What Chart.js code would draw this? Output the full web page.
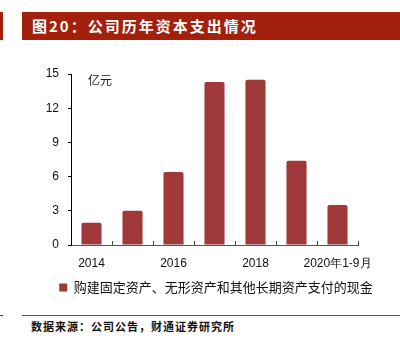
<!DOCTYPE html>
<html lang="zh">
<head>
  <meta charset="UTF-8">
  <title>公司历年资本支出情况</title>
  <script src="https://cdn.jsdelivr.net/npm/chart.js"></script>
  <style>
    body {
      margin: 0;
      width: 400px;
      height: 351px;
      background: #fff;
      position: relative;
      overflow: hidden;
      font-family: "Noto Sans CJK SC", "Liberation Sans", sans-serif;
    }
    .stub {
      position: absolute;
      left: 0;
      width: 3px;
      background: #a3200c;
    }
    #title {
      position: absolute;
      left: 22px;
      top: 12px;
      width: 378px;
      height: 28px;
      background: #a3200c;
      color: #fff;
      font-weight: bold;
      font-size: 15px;
      line-height: 28px;
      padding-left: 10px;
      box-sizing: border-box;
      letter-spacing: 2px;
    }
    #chart-box {
      position: absolute;
      left: 0;
      top: 50px;
      width: 400px;
      height: 258px;
    }
    #rule {
      position: absolute;
      left: 22px;
      top: 315px;
      width: 378px;
      height: 1px;
      background: #c0301a;
    }
    #source {
      position: absolute;
      left: 31px;
      top: 318px;
      font-size: 11px;
      font-weight: bold;
      letter-spacing: 1px;
      color: #111;
    }
  </style>
</head>
<body>
  <div class="stub" style="top:12px;height:28px"></div>
  <div id="title">图20：公司历年资本支出情况</div>
  <div id="chart-box">
    <canvas id="capexChart"></canvas>
  </div>
  <div class="stub" style="top:315px;height:1px"></div>
  <div id="rule"></div>
  <div id="source">数据来源：公司公告，财通证券研究所</div>

  <script>
    const years = ['2014', '2015', '2016', '2017', '2018', '2019', '2020年1-9月'];
    const capex = [1.95, 3.0, 6.4, 14.3, 14.5, 7.4, 3.5];
    const yTicks = [0, 3, 6, 9, 12, 15];
    const seriesName = '购建固定资产、无形资产和其他长期资产支付的现金';

    // unit label + small category separators pointing up from the x axis
    const extras = {
      id: 'extras',
      afterDraw(chart) {
        const { ctx, chartArea } = chart;
        const x = chart.scales.x;
        ctx.save();
        ctx.font = '12px "Noto Sans CJK SC"';
        ctx.fillStyle = '#222';
        ctx.textBaseline = 'middle';
        ctx.fillText('亿元', chartArea.left + 17, chartArea.top + 6);

        ctx.strokeStyle = '#444';
        ctx.lineWidth = 1;
        ctx.beginPath();
        for (let i = 0; i < years.length; i++) {
          const px = Math.round((x.getPixelForValue(i) + x.getPixelForValue(i + 1)) / 2) + 0.5;
          ctx.moveTo(px, chartArea.bottom);
          ctx.lineTo(px, chartArea.bottom - 4);
        }
        ctx.stroke();
        ctx.restore();
      }
    };

    new Chart(document.getElementById('capexChart'), {
      type: 'bar',
      data: {
        labels: years,
        datasets: [{
          label: seriesName,
          data: capex,
          backgroundColor: '#a0393a',
          borderRadius: { topLeft: 2, topRight: 2 },
          borderSkipped: 'bottom',
          categoryPercentage: 1,
          barPercentage: 0.49
        }]
      },
      options: {
        responsive: true,
        maintainAspectRatio: false,
        animation: false,
        // the legend is centred a bit right of the page, so the side padding is uneven
        layout: { padding: { top: 24, right: 14, left: 46, bottom: 4 } },
        plugins: {
          tooltip: { enabled: false },
          legend: {
            position: 'bottom',
            align: 'center',
            labels: {
              boxWidth: 8,
              boxHeight: 8,
              padding: 6,
              color: '#111',
              font: { family: '"Noto Sans CJK SC"', size: 13 }
            }
          }
        },
        scales: {
          x: {
            offset: true,
            grid: { display: false },
            border: { color: '#555', width: 1 },
            ticks: {
              autoSkip: false,
              maxRotation: 0,
              padding: 3,
              color: '#111',
              font: { family: '"Liberation Sans"', size: 12 },
              callback: (v, i) => (i % 2 === 0 ? years[i] : '')
            },
            afterFit: s => { s.height = 30; }
          },
          y: {
            min: 0,
            max: 15,
            afterBuildTicks: s => { s.ticks = yTicks.map(v => ({ value: v })); },
            grid: { drawOnChartArea: false, tickLength: 3, color: '#000' },
            border: { color: '#000', width: 1 },
            ticks: {
              color: '#111',
              padding: 9,
              font: { family: '"Liberation Sans"', size: 12 }
            },
            afterFit: s => { s.width = 25; }
          },
          // empty spacer on the right so the plot ends before the legend does
          spacer: {
            position: 'right',
            grid: { display: false },
            border: { display: false },
            ticks: { display: false },
            afterFit: s => { s.width = 28; }
          }
        }
      },
      plugins: [extras]
    });
  </script>
</body>
</html>
